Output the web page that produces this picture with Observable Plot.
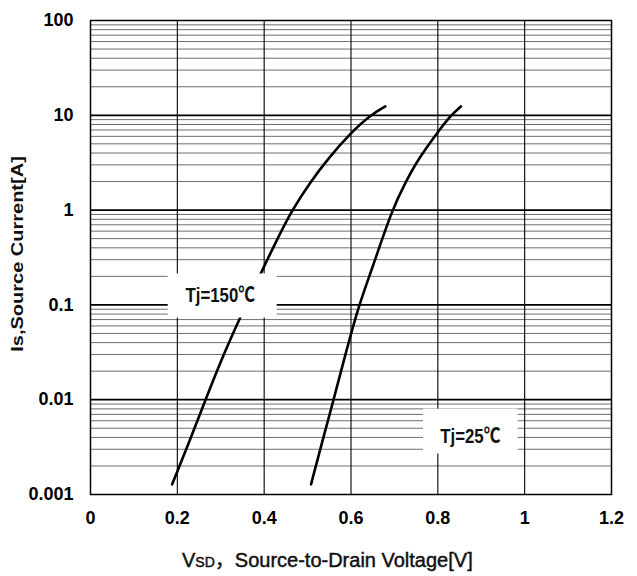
<!DOCTYPE html>
<html>
<head>
<meta charset="utf-8">
<script src="https://cdn.jsdelivr.net/npm/d3@7"></script>
<script src="https://cdn.jsdelivr.net/npm/@observablehq/plot@0.6"></script>
<style>
  html, body { margin: 0; padding: 0; background: #fff; }
  #chart { width: 637px; height: 576px; }
</style>
</head>
<body>
<div id="chart"></div>
<script>
// ---- data ----
const xTicks = [0, 0.2, 0.4, 0.6, 0.8, 1, 1.2];
const xTickLabels = ["0", "0.2", "0.4", "0.6", "0.8", "1", "1.2"];
const decades = [0.001, 0.01, 0.1, 1, 10, 100];
const yTickLabels = ["0.001", "0.01", "0.1", "1", "10", "100"];
const minorSteps = [2, 3, 4, 5, 6, 7, 8, 9];

// Tj = 150 °C curve
const vsd150 = [0.188, 0.225, 0.265, 0.300, 0.346, 0.393, 0.428, 0.464, 0.508, 0.549, 0.600, 0.644, 0.679];
const is150  = [0.00128, 0.00337, 0.01, 0.0256, 0.0764, 0.219, 0.473, 1.0, 2.03, 3.58, 6.58, 10, 12.4];
// Tj = 25 °C curve
const vsd25 = [0.508, 0.532, 0.560, 0.583, 0.618, 0.647, 0.694, 0.727, 0.757, 0.802, 0.830, 0.853];
const is25  = [0.00128, 0.00337, 0.01, 0.0256, 0.1, 0.228, 1.0, 2.03, 3.58, 6.86, 10, 12.4];

// annotation labels (text centre + white box extents, in data units)
const labelText = ["Tj=150\u2103", "Tj=25\u2103"];
const labelV = [0.299, 0.875];
const labelI = [0.126, 0.00413];
const boxV1 = [0.179, 0.767];
const boxV2 = [0.430, 0.985];
const boxI1 = [0.0727, 0.00267];
const boxI2 = [0.212, 0.00796];

const xTitleMain = "V";
const xTitleSub = "SD";
const xTitleRest = "\uff0cSource-to-Drain Voltage[V]";
const yTitle = "Is,Source Current[A]";

// ---- tables built from the arrays ----
const minor = decades.slice(0, -1).flatMap(d => minorSteps.map(k => k * d));
const curve150 = vsd150.map((v, i) => ({v, i: is150[i]}));
const curve25 = vsd25.map((v, i) => ({v, i: is25[i]}));
const labels = labelText.map((t, k) => ({
  t, v: labelV[k], i: labelI[k], v1: boxV1[k], v2: boxV2[k], i1: boxI1[k], i2: boxI2[k]
}));

const FONT = "'Liberation Sans', Arial, 'Noto Sans CJK SC', sans-serif";

const chart = Plot.plot({
  width: 637,
  height: 576,
  marginLeft: 90,
  marginRight: 26,
  marginTop: 20,
  marginBottom: 82,
  style: {fontFamily: FONT, fontSize: "18px", fontWeight: "bold", background: "#fff", color: "#000"},
  x: {
    domain: [0, 1.2], ticks: xTicks, tickSize: 0, tickPadding: 17, label: null,
    tickFormat: d => xTickLabels[xTicks.indexOf(d)]
  },
  y: {
    type: "log", domain: [0.001, 100], ticks: decades, tickSize: 0, tickPadding: 17, label: null,
    tickFormat: d => yTickLabels[decades.indexOf(d)]
  },
  marks: [
    Plot.ruleY(minor, {stroke: "#6e6e6e", strokeWidth: 1}),
    Plot.ruleY(decades.slice(1, -1), {stroke: "#000", strokeWidth: 1.7}),
    Plot.ruleX(xTicks.slice(1, -1), {stroke: "#000", strokeWidth: 1.1}),
    Plot.line(curve150, {x: "v", y: "i", curve: "basis", stroke: "#000", strokeWidth: 2.6}),
    Plot.line(curve25, {x: "v", y: "i", curve: "basis", stroke: "#000", strokeWidth: 2.6}),
    Plot.rect(labels, {x1: "v1", x2: "v2", y1: "i1", y2: "i2", fill: "#fff"}),
    Plot.text(labels, {x: "v", y: "i", text: "t", fontSize: 20.5, fontWeight: "bold", fill: "#111", fontFamily: FONT}),
    Plot.frame({stroke: "#000", strokeWidth: 1.5})
  ]
});

document.getElementById("chart").appendChild(chart);

// narrow the annotation labels like the reference's condensed font
d3.select(chart).selectAll('g[aria-label="text"] text').each(function() {
  const t = this.getAttribute("transform") || "";
  this.setAttribute("transform", t + " scale(0.82,1)");
});

const svg = d3.select(chart);
// x-axis title with subscript
const xt = svg.append("text")
  .attr("x", 182).attr("y", 567)
  .attr("text-anchor", "start")
  .attr("font-size", 20).attr("font-weight", "normal")
  .attr("fill", "#111").attr("stroke", "#111").attr("stroke-width", 0.45)
  .style("font-family", FONT);
xt.append("tspan").text(xTitleMain);
xt.append("tspan").attr("font-size", 14).text(xTitleSub);
xt.append("tspan").text(xTitleRest);

// y-axis title (rotated)
svg.append("text")
  .attr("transform", "translate(17,254) rotate(-90) scale(1,0.8)")
  .attr("text-anchor", "middle").attr("dy", "0.35em")
  .attr("font-size", 20).attr("font-weight", "bold")
  .attr("fill", "#111")
  .style("font-family", FONT)
  .text(yTitle);
</script>
</body>
</html>
